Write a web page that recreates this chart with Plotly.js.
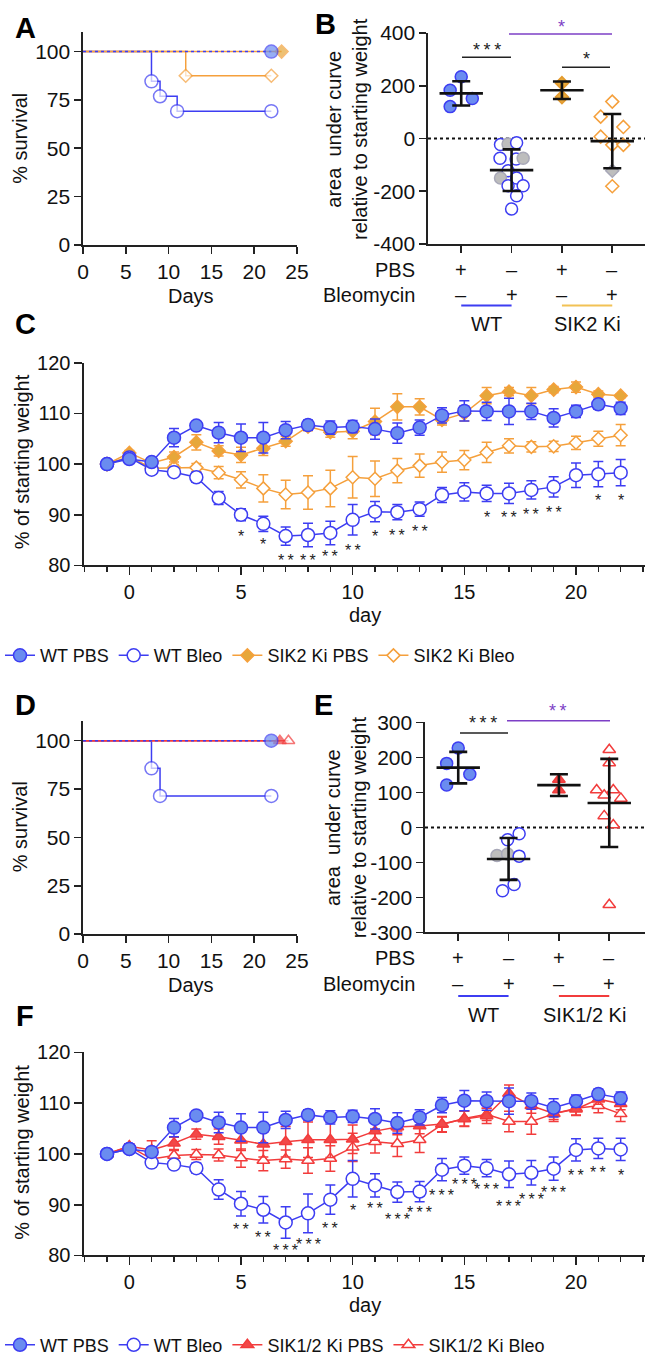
<!DOCTYPE html>
<html><head><meta charset="utf-8">
<script src="https://cdn.plot.ly/plotly-3.0.1.min.js"></script>
<style>html,body{margin:0;padding:0;background:#fff;} #chart{width:647px;height:1364px;}</style>
</head><body><div id="chart"></div>
<script>
// ================= DATA =================
// Panel A: Kaplan-Meier survival (SIK2 Ki study)
const survA_wtPbsDays = [0, 22];
const survA_wtPbs = [100, 100];
const survA_wtBleoDays = [0, 8, 9, 11, 22];
const survA_wtBleo = [100, 84.6, 76.9, 69.2, 69.2];
const survA_sik2PbsDays = [0, 23.2];
const survA_sik2Pbs = [100, 100];
const survA_sik2BleoDays = [0, 12, 22];
const survA_sik2Bleo = [100, 87.5, 87.5];

// Panel B: AUC relative to starting weight
const groupsB = ['WT PBS', 'WT Bleo', 'SIK2 Ki PBS', 'SIK2 Ki Bleo'];
const bWtPbs = [234, 183, 152, 121];
const bWtPbsJitter = [0, -0.22, 0.22, -0.22];
const bWtBleo = [-23, -21, -16, -75, -78, -75, -122, -150, -150, -179, -179, -217, -267];
const bWtBleoJitter = [-0.22, -0.07, 0.1, -0.23, 0.09, 0.23, -0.07, -0.22, 0.1, 0.23, -0.07, 0.1, 0];
const bWtBleoDied = [0, 1, 0, 0, 0, 1, 0, 1, 0, 0, 0, 0, 0];
const bSik2Pbs = [210, 157];
const bSik2PbsJitter = [0, 0];
const bSik2Bleo = [140, 83, 44, 7, -24, -24, -122, -181];
const bSik2BleoJitter = [0, -0.23, 0.22, -0.23, 0, 0.22, 0, 0];
const bSik2BleoDied = [0, 0, 0, 0, 0, 0, 1, 0];
const bMean = [171, -120, 183, -10];
const bSd = [46, 79, 33, 103];

// Panel C: % of starting weight (mean ± SEM)
const days = [-1, 0, 1, 2, 3, 4, 5, 6, 7, 8, 9, 10, 11, 12, 13, 14, 15, 16, 17, 18, 19, 20, 21, 22];
const wtPbs =    [100.0, 101.0, 100.4, 105.2, 107.6, 106.2, 105.2, 105.2, 106.7, 107.7, 107.2, 107.4, 106.9, 106.1, 107.2, 109.6, 110.5, 110.4, 110.4, 110.4, 109.1, 110.4, 111.8, 111.0];
const wtPbsSem = [0, 0.5, 0.7, 1.8, 0.6, 2.0, 2.7, 3.0, 1.7, 1.0, 1.3, 1.2, 2.0, 2.0, 1.5, 1.5, 2.0, 1.8, 2.6, 1.6, 1.8, 1.2, 1.0, 1.2];
const cWtBleo =    [100.0, 101.3, 98.9, 98.4, 97.4, 93.3, 90.0, 88.2, 85.8, 86.0, 86.4, 89.0, 90.6, 90.5, 91.1, 93.9, 94.5, 94.2, 94.2, 94.9, 95.5, 97.8, 98.0, 98.3];
const cWtBleoSem = [0, 0.5, 0.5, 0.5, 1.0, 1.3, 1.2, 1.5, 1.8, 2.3, 2.3, 3.0, 2.0, 1.5, 1.4, 1.5, 1.8, 1.6, 2.0, 1.8, 2.0, 2.4, 2.5, 2.6];
const sik2Pbs =    [100.0, 102.2, 100.2, 101.4, 104.3, 102.6, 101.8, 103.1, 104.5, 107.4, 106.3, 106.5, 108.4, 111.3, 111.3, 108.7, 110.0, 113.5, 114.3, 113.5, 114.7, 115.2, 113.8, 113.5];
const sik2PbsSem = [0, 0.5, 0.6, 1.0, 1.5, 1.0, 1.5, 1.4, 1.0, 0.8, 1.0, 1.5, 2.6, 2.6, 1.6, 1.0, 1.5, 1.6, 0.8, 1.6, 0.6, 1.0, 0.6, 0.4];
const sik2Bleo =    [100.0, 101.5, 99.2, 99.3, 99.3, 98.3, 96.9, 95.2, 94.0, 94.4, 95.2, 97.4, 97.1, 98.7, 99.7, 100.4, 100.8, 102.3, 103.6, 103.4, 103.5, 104.2, 105.0, 105.7];
const sik2BleoSem = [0, 0.5, 0.5, 0.6, 0.8, 1.2, 1.6, 2.7, 2.8, 3.3, 3.6, 4.1, 3.5, 2.4, 2.3, 2.0, 1.9, 2.0, 1.4, 1.0, 1.0, 1.3, 1.5, 2.1];
const cStarDays = [5, 6, 7, 8, 9, 10, 11, 12, 13, 16, 17, 18, 19, 21, 22];
const cStarY =    [86.2, 84.7, 81.6, 81.6, 82.3, 83.6, 86.2, 86.4, 87.2, 90.1, 90.0, 90.6, 91.1, 93.5, 93.5];
const cStarText = ['*', '*', '**', '**', '**', '**', '*', '**', '**', '*', '**', '**', '**', '*', '*'];

// Panel D: survival (SIK1/2 Ki study)
const survD_wtPbsDays = [0, 22];
const survD_wtPbs = [100, 100];
const survD_wtBleoDays = [0, 8, 9, 22];
const survD_wtBleo = [100, 85.7, 71.4, 71.4];
const survD_sikPbsDays = [0, 23];
const survD_sikPbs = [100, 100];
const survD_sikBleoDays = [0, 24];
const survD_sikBleo = [100, 100];

// Panel E: AUC
const eWtPbs = [227, 183, 152, 121];
const eWtPbsJitter = [0, -0.23, 0.23, -0.23];
const eWtBleo = [-18, -35, -80, -76, -82, -163, -181];
const eWtBleoJitter = [0.21, -0.02, -0.23, -0.02, 0.21, 0.11, -0.12];
const eWtBleoDied = [0, 0, 1, 1, 0, 0, 0];
const eSikPbs = [137, 107];
const eSikPbsJitter = [0, 0];
const eSikBleo = [222, 184, 107, 107, 92, 83, 33, 7, -221];
const eSikBleoJitter = [0, 0, -0.25, 0.08, -0.1, 0.23, -0.1, 0.08, 0];
const eMean = [171, -90, 121, 70];
const eSd = [45, 60, 31, 126];

// Panel F: % of starting weight (mean ± SEM)
const fWtBleo =    [100.0, 101.0, 98.3, 97.9, 97.2, 93.0, 90.2, 89.0, 86.5, 88.3, 91.0, 95.1, 93.8, 92.5, 92.6, 96.9, 97.7, 97.2, 96.0, 96.3, 97.1, 100.8, 101.1, 100.9];
const fWtBleoSem = [0, 0.5, 0.5, 0.5, 1.0, 1.9, 2.4, 2.6, 3.1, 3.8, 2.9, 3.6, 2.3, 2.0, 2.0, 2.2, 1.7, 1.7, 2.6, 2.4, 2.3, 2.2, 2.0, 2.2];
const sikPbs =    [100.0, 101.5, 100.8, 102.1, 103.9, 103.4, 102.7, 101.9, 102.4, 102.8, 102.8, 102.9, 104.5, 105.3, 105.5, 105.9, 106.9, 107.5, 111.9, 109.5, 108.0, 108.8, 110.8, 109.9];
const sikPbsSem = [0, 0.5, 1.8, 1.2, 1.0, 1.5, 2.0, 2.5, 3.0, 3.5, 3.5, 2.8, 1.8, 1.5, 1.5, 1.5, 1.5, 1.5, 1.7, 1.5, 1.2, 1.2, 1.0, 1.2];
const sikBleo =    [100.0, 101.5, 99.0, 99.7, 99.9, 99.8, 99.2, 98.7, 99.0, 98.7, 99.1, 101.3, 102.4, 102.0, 102.8, 105.8, 107.0, 107.8, 106.4, 106.4, 107.9, 109.0, 109.5, 107.9];
const sikBleoSem = [0, 0.5, 0.8, 1.0, 1.0, 1.2, 1.8, 2.0, 1.8, 2.5, 2.5, 2.8, 2.2, 2.5, 2.5, 1.5, 1.5, 1.2, 2.0, 2.5, 1.5, 1.3, 1.4, 1.5];
const fStarDays = [5, 6, 7, 8, 9, 10, 11, 12, 13, 14, 15, 16, 17, 18, 19, 20, 21, 22];
const fStarY =    [85.7, 84.2, 81.5, 82.8, 85.9, 89.5, 89.9, 87.6, 89.1, 92.5, 94.6, 93.5, 90.3, 91.6, 93.0, 96.4, 96.9, 96.4];
const fStarText = ['**', '**', '***', '***', '**', '*', '**', '***', '***', '***', '***', '***', '***', '***', '***', '**', '**', '*'];

// ================= STYLE =================
const W = 647, H = 1364;
const FONT = '"Liberation Sans", Arial, Helvetica, sans-serif';
const TXT = '#111';
const AX = '#222';
const BLUE = '#3d3df2', BLUEFILL = '#6a8cf0';
const ORANGE = '#f5a03c', ORANGEFILL = '#e6a73a', ORANGEEDGE = '#e39a2e';
const RED = '#f23c3c', REDFILL = '#f24848';
const GRAY = '#bdbdbd';
const PURPLE = '#7d3fc6';
const GOLD = '#f2c255';
const fx = p => p / W;
const fy = p => 1 - p / H;

function stars(t) { return t.split('').join('\u2009'); }
function addJ(cat, jit) { return jit.map(j => cat + j); }

const traces = [];

// ---- A ----
function survTrace(xs, ys, color, sym, fill, size, dash, xa, ya) {
  return {
    x: xs, y: ys, xaxis: xa, yaxis: ya, type: 'scatter', mode: 'lines+markers',
    line: {shape: 'hv', color: color, width: 1.5, dash: dash || 'solid'},
    marker: {symbol: sym, color: fill, size: xs.map((_, i) => i === 0 ? 0 : size), line: {color: color, width: 1.5}},
    showlegend: false, hoverinfo: 'skip', cliponaxis: false
  };
}
traces.push(survTrace(survA_wtBleoDays, survA_wtBleo, BLUE, 'circle', 'white', 13, null, 'x', 'y'));
traces.push(survTrace(survA_sik2BleoDays, survA_sik2Bleo, ORANGE, 'diamond', 'white', 10, null, 'x', 'y'));
traces.push(survTrace(survA_sik2PbsDays, survA_sik2Pbs, ORANGE, 'diamond', ORANGEFILL, 10, null, 'x', 'y'));
traces.push(survTrace(survA_wtPbsDays, survA_wtPbs, BLUE, 'circle', BLUEFILL, 13, '3px,3px', 'x', 'y'));

// ---- D ----
traces.push(survTrace(survD_wtBleoDays, survD_wtBleo, BLUE, 'circle', 'white', 13, null, 'x4', 'y4'));
traces.push(survTrace(survD_sikBleoDays, survD_sikBleo, RED, 'triangle-up', 'white', 11, null, 'x4', 'y4'));
traces.push(survTrace(survD_sikPbsDays, survD_sikPbs, RED, 'triangle-up', REDFILL, 11, null, 'x4', 'y4'));
traces.push(survTrace(survD_wtPbsDays, survD_wtPbs, BLUE, 'circle', BLUEFILL, 13, '3px,3px', 'x4', 'y4'));

// ---- B / E dot plots ----
function dots(cat, vals, jit, died, color, sym, fill, size, xa, ya) {
  return {
    x: addJ(cat, jit), y: vals, xaxis: xa, yaxis: ya, type: 'scatter', mode: 'markers',
    marker: {symbol: sym, size: size,
      color: died ? died.map(d => d ? GRAY : fill) : fill,
      line: {color: died ? died.map(d => d ? '#a8a8b8' : color) : color, width: 1.5}},
    showlegend: false, hoverinfo: 'skip', cliponaxis: false
  };
}
function meanSd(means, sds, xa, ya) {
  return {
    x: means.map((_, i) => i), y: means, xaxis: xa, yaxis: ya, type: 'scatter', mode: 'markers',
    marker: {symbol: 'line-ew', size: 31, color: '#111', line: {color: '#111', width: 2.6}},
    error_y: {type: 'data', array: sds, visible: true, color: '#111', thickness: 2.6, width: 9},
    showlegend: false, hoverinfo: 'skip', cliponaxis: false
  };
}
traces.push(dots(0, bWtPbs, bWtPbsJitter, null, BLUE, 'circle', BLUEFILL, 12, 'x2', 'y2'));
traces.push(dots(1, bWtBleo, bWtBleoJitter, bWtBleoDied, BLUE, 'circle', 'white', 12, 'x2', 'y2'));
traces.push(dots(2, bSik2Pbs, bSik2PbsJitter, null, ORANGEEDGE, 'diamond', ORANGEFILL, 10, 'x2', 'y2'));
traces.push(dots(3, bSik2Bleo, bSik2BleoJitter, bSik2BleoDied, ORANGE, 'diamond', 'white', 10, 'x2', 'y2'));
traces.push(meanSd(bMean, bSd, 'x2', 'y2'));

traces.push(dots(0, eWtPbs, eWtPbsJitter, null, BLUE, 'circle', BLUEFILL, 12, 'x5', 'y5'));
traces.push(dots(1, eWtBleo, eWtBleoJitter, eWtBleoDied, BLUE, 'circle', 'white', 12, 'x5', 'y5'));
traces.push(dots(2, eSikPbs, eSikPbsJitter, null, RED, 'triangle-up', REDFILL, 11, 'x5', 'y5'));
traces.push(dots(3, eSikBleo, eSikBleoJitter, null, RED, 'triangle-up', 'white', 11, 'x5', 'y5'));
traces.push(meanSd(eMean, eSd, 'x5', 'y5'));

// ---- C / F weight curves ----
function wt(ys, sem, name, color, sym, fill, size, xa, ya, legend, rank) {
  return {
    x: days, y: ys, name: name, xaxis: xa, yaxis: ya, type: 'scatter', mode: 'lines+markers',
    line: {color: color, width: 1.5},
    marker: {symbol: sym, color: fill, size: size, line: {color: color, width: 1.5}},
    error_y: {type: 'data', array: sem, visible: true, color: color, thickness: 1.5, width: 5},
    legend: legend, legendrank: rank, hoverinfo: 'skip', cliponaxis: false
  };
}
traces.push(wt(sik2Bleo, sik2BleoSem, 'SIK2 Ki Bleo', ORANGE, 'diamond', 'white', 10, 'x3', 'y3', 'legend', 4));
traces.push(wt(sik2Pbs, sik2PbsSem, 'SIK2 Ki PBS', ORANGE, 'diamond', ORANGEFILL, 10, 'x3', 'y3', 'legend', 3));
traces.push(wt(cWtBleo, cWtBleoSem, 'WT Bleo', BLUE, 'circle', 'white', 13, 'x3', 'y3', 'legend', 2));
traces.push(wt(wtPbs, wtPbsSem, 'WT PBS', BLUE, 'circle', BLUEFILL, 13, 'x3', 'y3', 'legend', 1));

traces.push(wt(sikBleo, sikBleoSem, 'SIK1/2 Ki Bleo', RED, 'triangle-up', 'white', 11, 'x6', 'y6', 'legend2', 4));
traces.push(wt(sikPbs, sikPbsSem, 'SIK1/2 Ki PBS', RED, 'triangle-up', REDFILL, 11, 'x6', 'y6', 'legend2', 3));
traces.push(wt(fWtBleo, fWtBleoSem, 'WT Bleo', BLUE, 'circle', 'white', 13, 'x6', 'y6', 'legend2', 2));
traces.push(wt(wtPbs, wtPbsSem, 'WT PBS', BLUE, 'circle', BLUEFILL, 13, 'x6', 'y6', 'legend2', 1));

// ================= LAYOUT =================
function axis(extra, fs) {
  return Object.assign({
    showline: true, linecolor: AX, linewidth: 1.6, ticks: 'outside', tickcolor: AX, tickwidth: 1.6,
    ticklen: 7, showgrid: false, zeroline: false, fixedrange: true,
    tickfont: {family: FONT, size: fs || 21, color: TXT}
  }, extra);
}
const survX = {range: [0, 25], tickmode: 'array', tickvals: [0, 5, 10, 15, 20, 25]};
const survY = {range: [0, 110], tickmode: 'array', tickvals: [0, 25, 50, 75, 100]};
const catX = {tickmode: 'array', tickvals: [0, 1, 2, 3], showticklabels: false};
const dayX = {range: [-2.03, 23.09], tickmode: 'linear', tick0: 0, dtick: 5, ticklen: 8,
  minor: {tick0: 0, dtick: 1, ticks: 'outside', ticklen: 5, tickcolor: AX, tickwidth: 1.6}};
const wY = {range: [80, 120], tickmode: 'linear', tick0: 80, dtick: 10, ticklen: 8};

const layout = {
  width: W, height: H, autosize: false, margin: {l: 0, r: 0, t: 0, b: 0},
  paper_bgcolor: '#fff', plot_bgcolor: 'rgba(0,0,0,0)',
  font: {family: FONT, color: TXT},
  xaxis: axis(Object.assign({domain: [fx(83), fx(297)], anchor: 'y'}, survX)),
  yaxis: axis(Object.assign({domain: [fy(247), fy(32.5)], anchor: 'x'}, survY)),
  xaxis2: axis(Object.assign({domain: [fx(428), fx(645)], anchor: 'y2', range: [-0.66, 3.65]}, catX)),
  yaxis2: axis({domain: [fy(246), fy(33.3)], anchor: 'x2', range: [-400, 400], tickmode: 'array',
    tickvals: [-400, -200, 0, 200, 400], ticktext: ['-400', '-200', '0', '200', '400']}),
  xaxis3: axis(Object.assign({domain: [fx(84), fx(645)], anchor: 'y3'}, dayX), 20),
  yaxis3: axis(Object.assign({domain: [fy(570), fy(365.7)], anchor: 'x3'}, wY), 20),
  xaxis4: axis(Object.assign({domain: [fx(83), fx(297)], anchor: 'y4'}, survX)),
  yaxis4: axis(Object.assign({domain: [fy(941.7), fy(727.2)], anchor: 'x4'}, survY)),
  xaxis5: axis(Object.assign({domain: [fx(425), fx(645)], anchor: 'y5', range: [-0.66, 3.71]}, catX)),
  yaxis5: axis({domain: [fy(940), fy(728.3)], anchor: 'x5', range: [-300, 300], tickmode: 'array',
    tickvals: [-300, -200, -100, 0, 100, 200, 300], ticktext: ['-300', '-200', '-100', '0', '100', '200', '300']}),
  xaxis6: axis(Object.assign({domain: [fx(84), fx(645)], anchor: 'y6'}, dayX), 20),
  yaxis6: axis(Object.assign({domain: [fy(1265.7), fy(1061)], anchor: 'x6'}, wY), 20),
  legend: {orientation: 'h', x: 0, xanchor: 'left', y: fy(661), yanchor: 'middle',
    font: {family: FONT, size: 18, color: TXT}, bgcolor: 'rgba(0,0,0,0)', itemwidth: 30},
  legend2: {orientation: 'h', x: 0, xanchor: 'left', y: fy(1356), yanchor: 'middle',
    font: {family: FONT, size: 18, color: TXT}, bgcolor: 'rgba(0,0,0,0)', itemwidth: 30},
  shapes: [], annotations: []
};

const A = layout.annotations, S = layout.shapes;
function ann(text, xpx, ypx, o) {
  A.push(Object.assign({text: text, x: fx(xpx), y: fy(ypx), xref: 'paper', yref: 'paper',
    showarrow: false, xanchor: 'center', yanchor: 'middle',
    font: {family: FONT, size: 19, color: TXT}}, o || {}));
}
function seg(x0, y0, x1, y1, color, width, extra) {
  S.push(Object.assign({type: 'line', xref: 'paper', yref: 'paper', x0: fx(x0), y0: fy(y0), x1: fx(x1), y1: fy(y1),
    line: {color: color, width: width}}, extra || {}));
}
const bold = s => ({family: FONT, size: 29, color: '#000', weight: 'bold'});

// panel letters
ann('<b>A</b>', 25, 28, {font: bold()});
ann('<b>B</b>', 325, 24, {font: bold()});
ann('<b>C</b>', 25, 327, {font: bold()});
ann('<b>D</b>', 25, 711, {font: bold()});
ann('<b>E</b>', 323, 711, {font: bold()});
ann('<b>F</b>', 25, 1024, {font: bold()});

// axis titles
const TF = {family: FONT, size: 20, color: TXT};
ann('% survival', 20, 140, {textangle: -90, font: TF});
ann('Days', 191, 298, {font: TF});
ann('% survival', 20, 834, {textangle: -90, font: TF});
ann('Days', 191, 993, {font: TF});
ann('% of starting weight', 22, 466, {textangle: -90, font: TF});
ann('day', 365, 620, {font: TF});
ann('% of starting weight', 22, 1162, {textangle: -90, font: TF});
ann('day', 365, 1316, {font: TF});
ann('area  under curve<br>relative to starting weight', 347, 130, {textangle: -90, font: TF});
ann('area  under curve<br>relative to starting weight', 346, 834, {textangle: -90, font: TF});

// B / E treatment rows
const pbsRow = ['+', '\u2013', '+', '\u2013'];
const bleoRow = ['\u2013', '+', '\u2013', '+'];
const RF = {family: FONT, size: 20, color: TXT};
function catAnn(text, xa, xv, ypx) {
  A.push({text: text, x: xv, xref: xa, y: fy(ypx), yref: 'paper', showarrow: false,
    xanchor: 'center', yanchor: 'middle', font: RF});
}
function rows(xa, yPbs, yBleo, yLine, yLab, c2, lab2) {
  ann('PBS', 417, yPbs, {xanchor: 'right', font: RF});
  ann('Bleomycin', 417, yBleo, {xanchor: 'right', font: RF});
  for (let i = 0; i < 4; i++) {
    catAnn(pbsRow[i], xa, i, yPbs);
    catAnn(bleoRow[i], xa, i, yBleo);
  }
  S.push({type: 'line', xref: xa, yref: 'paper', x0: 0, x1: 1, y0: fy(yLine), y1: fy(yLine), line: {color: BLUE, width: 2}});
  S.push({type: 'line', xref: xa, yref: 'paper', x0: 2, x1: 3, y0: fy(yLine), y1: fy(yLine), line: {color: c2, width: 2}});
  catAnn('WT', xa, 0.5, yLab);
  catAnn(lab2, xa, 2.5, yLab);
}
rows('x2', 272, 297, 308, 327, GOLD, 'SIK2 Ki');
rows('x5', 966, 992, 1004, 1023, RED, 'SIK1/2 Ki');

// zero dotted lines
S.push({type: 'line', xref: 'x2 domain', yref: 'y2', x0: 0, x1: 1, y0: 0, y1: 0, line: {color: '#111', width: 2, dash: 'dot'}, layer: 'below'});
S.push({type: 'line', xref: 'x5 domain', yref: 'y5', x0: 0, x1: 1, y0: 0, y1: 0, line: {color: '#111', width: 2, dash: 'dot'}, layer: 'below'});

// significance brackets B
seg(462, 57.7, 511, 57.7, '#222', 1.5);
ann(stars('***'), 487, 50, {font: {family: FONT, size: 18, color: '#222'}});
seg(509, 34.3, 612, 34.3, PURPLE, 1.5);
ann('*', 561, 27, {font: {family: FONT, size: 18, color: PURPLE}});
seg(562, 67.7, 610, 67.7, '#222', 1.5);
ann('*', 586, 59, {font: {family: FONT, size: 18, color: '#222'}});
// significance brackets E
seg(460, 739, 508, 739, '#222', 1.5);
ann(stars('***'), 483, 729, {font: {family: FONT, size: 18, color: '#222'}});
seg(507, 726.7, 610, 726.7, PURPLE, 1.5);
ann(stars('**'), 558, 717, {font: {family: FONT, size: 18, color: PURPLE}});

// stars in C and F
cStarDays.forEach((d, i) => A.push({text: stars(cStarText[i]), x: d, y: cStarY[i], xref: 'x3', yref: 'y3', showarrow: false,
  xanchor: 'center', yanchor: 'middle', yshift: -3, font: {family: FONT, size: 16, color: '#222'}}));
fStarDays.forEach((d, i) => A.push({text: stars(fStarText[i]), x: d, y: fStarY[i], xref: 'x6', yref: 'y6', showarrow: false,
  xanchor: 'center', yanchor: 'middle', yshift: -3, font: {family: FONT, size: 16, color: '#222'}}));

Plotly.newPlot('chart', traces, layout, {displayModeBar: false, staticPlot: true});
</script>
</body></html>
